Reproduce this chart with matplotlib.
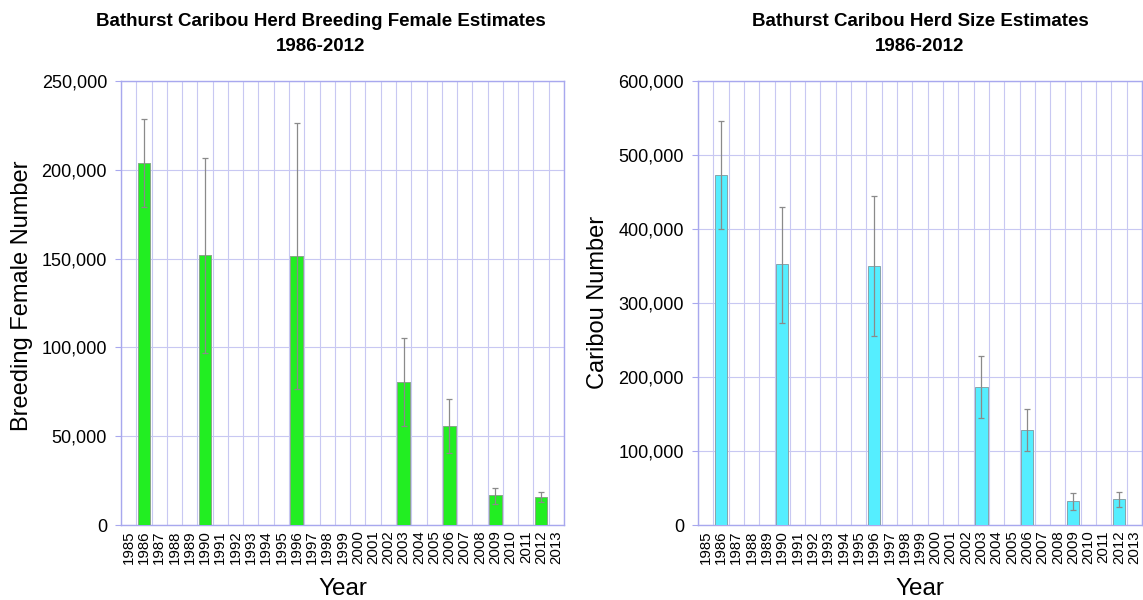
import matplotlib
matplotlib.use("Agg")
import matplotlib.pyplot as plt
from matplotlib.ticker import FuncFormatter
import numpy as np

years = list(range(1985, 2014))
survey_years = [1986, 1990, 1996, 2003, 2006, 2009, 2012]

female_est = [203800, 151900, 151300, 80500, 55600, 16700, 15900]
female_hi = [228600, 206800, 226500, 105300, 70800, 21000, 18700]
female_lo = [178900, 96800, 76600, 55700, 40400, 12000, 12800]

herd_est = [472600, 352300, 349600, 186500, 128400, 32400, 35100]
herd_hi = [545500, 429700, 444200, 228400, 156800, 42800, 44600]
herd_lo = [400000, 273000, 255400, 144600, 100000, 20700, 24700]

titles = ["Bathurst Caribou Herd Breeding Female Estimates\n1986-2012",
          "Bathurst Caribou Herd Size Estimates\n1986-2012"]
ylabels = ["Breeding Female Number", "Caribou Number"]
ymax = [250000, 600000]
ystep = [50000, 100000]
colors = ["#22EE22", "#55EEFF"]

plt.rcParams['font.family'] = ['Liberation Sans', 'DejaVu Sans']

W, H = 1143, 600
fig = plt.figure(figsize=(W / 100, H / 100), dpi=100)

axes_px = [(121, 443), (698, 444)]
datasets = [(female_est, female_hi, female_lo), (herd_est, herd_hi, herd_lo)]
title_x = [321, 920]
ylabel_x = [22, 598]
ylabel_y = [296, 302]

grid_c = "#C8C8F2"
frame_c = "#A8A8EE"

for i in range(2):
    x0, w = axes_px[i]
    ax = fig.add_axes([x0 / W, 1 - 525 / H, w / W, 444 / H])
    est, hi, lo = datasets[i]
    pos = [years.index(y) for y in survey_years]
    est = np.array(est); hi = np.array(hi); lo = np.array(lo)
    ax.bar(pos, est, width=0.82, color=colors[i], edgecolor="#86A886" if i == 0 else "#86A4AA",
           linewidth=0.7, zorder=3)
    ax.errorbar(pos, est, yerr=[est - lo, hi - est], fmt='none', ecolor="#8A8A8A",
                elinewidth=0.9, capsize=2.5, capthick=0.9, zorder=4)
    ax.set_xlim(-0.5, len(years) - 0.5)
    ax.set_ylim(0, ymax[i])
    ax.set_xticks(range(len(years)))
    ax.set_xticklabels([str(y) for y in years], rotation=90, fontsize=10.8)
    ax.tick_params(axis='x', length=0, pad=4)
    yt = np.arange(0, ymax[i] + 1, ystep[i])
    ax.set_yticks(yt)
    ax.yaxis.set_major_formatter(FuncFormatter(lambda v, p: f"{int(v):,}"))
    ax.tick_params(axis='y', labelsize=13, length=4, color=frame_c, pad=6)
    for xb in np.arange(-0.5, len(years), 1.0):
        ax.axvline(xb, color=grid_c, linewidth=0.8, zorder=1)
    for yv in yt:
        ax.axhline(yv, color=grid_c, linewidth=0.8, zorder=1)
    for s in ax.spines.values():
        s.set_color(frame_c)
        s.set_linewidth(1.0)
    fig.text(title_x[i] / W, 1 - 34 / H, titles[i], ha='center', va='center',
             fontsize=13.5, fontweight='bold', linespacing=1.55)
    fig.text(ylabel_x[i] / W, 1 - ylabel_y[i] / H, ylabels[i], rotation=90, ha='center', va='center', fontsize=17)
    fig.text((x0 + w / 2) / W, 1 - 589 / H, "Year", ha='center', va='center', fontsize=17.5)

fig.savefig("out.png", dpi=100)
